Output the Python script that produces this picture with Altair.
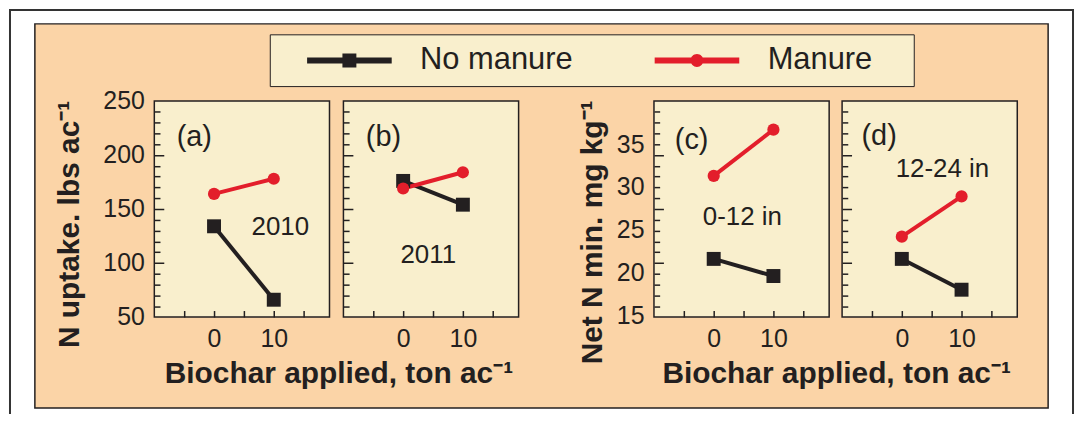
import altair as alt
import pandas as pd

# ---------------- data ----------------
biochar = [0, 10]
series_names = ["No manure", "Manure"]

uptake_2010_no_manure = [134, 66]
uptake_2010_manure = [164, 178]
uptake_2011_no_manure = [176, 154]
uptake_2011_manure = [169, 184]
netmin_0_12_no_manure = [21.6, 19.6]
netmin_0_12_manure = [31.3, 36.7]
netmin_12_24_no_manure = [21.6, 18.0]
netmin_12_24_manure = [24.2, 28.9]

panel_tags = ["(a)", "(b)", "(c)", "(d)"]
tag_x = [-3.3, -3.3, -3.7, -3.8]
tag_y = [217.0, 217.0, 35.5, 36.0]
panel_notes = ["2010", "2011", "0-12 in", "12-24 in"]
note_x = [11.1, 4.2, 4.8, 6.8]
note_y = [133.7, 107.6, 26.5, 32.1]

x_domain = [-10, 19.33]
x_tick_values = [-5, 0, 5, 10, 15]
uptake_domain = [50, 250]
uptake_labels = [50, 100, 150, 200, 250]
netmin_domain = [14.81, 40.05]
netmin_labels = [15, 20, 25, 30, 35]
major_tick_values = [100, 150, 200]
minor_tick_values = [60, 70, 80, 90, 110, 120, 130, 140, 160, 170, 180, 190,
                     210, 220, 230, 240]

x_title = "Biochar applied, ton ac\u207b\u00b9"
y_title_uptake = "N uptake. lbs ac\u207b\u00b9"
y_title_netmin = "Net N min. mg kg\u207b\u00b9"

# ---------------- style / layout ----------------
FONT = "Liberation Sans, Arial, Helvetica, sans-serif"
DARK = "#231f20"
RED = "#e31e2b"
ORANGE = "#fbd4a7"
CREAM = "#f9efcd"

VIEW_W, VIEW_H = 1018, 386
PANEL_LEFT = [120, 310, 622, 811]
PANEL_W = 176
Y_TOP, Y_BOTTOM = 77.5, 294.5
XTICK = 6.5
YMAJ = 9.5
YMIN = 5.7

NM_PATH = "M-4.25,-0.3H4.25V0.3H-4.25Z M-0.7,-0.7H0.7V0.7H-0.7Z"
M_PATH = ("M-4.25,-0.3H4.25V0.3H-4.25Z M0.65,0A0.65,0.65 0 1,1 -0.65,0"
          "A0.65,0.65 0 1,1 0.65,0Z M20.7,0")

LEGEND = alt.Legend(
    title=None, orient="none", legendX=236, legendY=10.5, direction="horizontal",
    fillColor=CREAM, strokeColor=DARK, padding=10.5, symbolSize=400,
    symbolOffset=54, labelOffset=55.5, columnPadding=55.2,
    labelFontSize=31, labelFont=FONT, labelColor=DARK, labelLimit=400,
    symbolStrokeWidth=0, symbolOpacity=1,
)
COLOR_SCALE = alt.Scale(domain=series_names, range=[DARK, RED])
COLOR = alt.Color("series:N", scale=COLOR_SCALE, legend=LEGEND)


def panel(i, no_manure, manure, ydom, ylabels, ytitle=None, ytitle_xy=(0, 0),
          xtitle=None, xtitle_x=0):
    left = PANEL_LEFT[i]
    xs = alt.Scale(domain=x_domain, range=[left, left + PANEL_W])
    ys = alt.Scale(domain=ydom, range=[Y_BOTTOM, Y_TOP])

    x_axis_kw = dict(orient="bottom", values=x_tick_values,
                     labelExpr="datum.value == 0 || datum.value == 10 ? datum.label : ''",
                     tickSize=XTICK, tickWidth=1.5, tickColor=DARK,
                     offset=Y_BOTTOM - XTICK - VIEW_H, domain=False, grid=False,
                     labelPadding=10, labelFontSize=25, labelFont=FONT, labelColor=DARK,
                     zindex=1)
    if xtitle:
        x_axis_kw.update(title=xtitle, titleX=xtitle_x, titleY=63, titleFontSize=30,
                         titleFont=FONT, titleFontWeight="bold", titleColor=DARK,
                         titleAlign="center", titleBaseline="middle")
    else:
        x_axis_kw.update(title=None)
    x_axis = alt.Axis(**x_axis_kw)

    if ylabels is not None:
        y_axis_kw = dict(orient="left", values=ylabels, ticks=False, tickSize=0,
                         domain=False, grid=False,
                         offset=-left, labelPadding=10, labelFontSize=25, labelFont=FONT,
                         labelColor=DARK, zindex=1)
        if ytitle:
            y_axis_kw.update(title=ytitle, titleX=ytitle_xy[0], titleY=ytitle_xy[1],
                             titleAngle=270, titleFontSize=30, titleFont=FONT,
                             titleFontWeight="bold", titleColor=DARK,
                             titleAlign="center", titleBaseline="middle")
        else:
            y_axis_kw.update(title=None)
        y_axis = alt.Axis(**y_axis_kw)
    else:
        y_axis = None

    def X(field):
        return alt.X(field, scale=xs, axis=x_axis)

    def Y(field):
        return alt.Y(field, scale=ys, axis=y_axis)

    bgdf = pd.DataFrame({"x0": [x_domain[0]], "x1": [x_domain[1]],
                         "y0": [ydom[0]], "y1": [ydom[1]]})
    bg = alt.Chart(bgdf).mark_rect(fill=CREAM, stroke=DARK, strokeWidth=1.5).encode(
        x=X("x0:Q"), x2="x1:Q", y=Y("y0:Q"), y2="y1:Q")

    df = pd.DataFrame({
        "biochar": biochar + biochar,
        "value": list(no_manure) + list(manure),
        "series": [series_names[0]] * 2 + [series_names[1]] * 2,
    })
    line = alt.Chart(df).mark_line(strokeWidth=4).encode(
        x=X("biochar:Q"), y=Y("value:Q"), color=COLOR, detail="series:N")
    sq = alt.Chart(df).transform_filter(alt.datum.series == series_names[0]).mark_point(
        shape="square", filled=True, size=196, opacity=1).encode(
        x=X("biochar:Q"), y=Y("value:Q"), color=COLOR)
    ci = alt.Chart(df).transform_filter(alt.datum.series == series_names[1]).mark_point(
        shape="circle", filled=True, size=150, opacity=1).encode(
        x=X("biochar:Q"), y=Y("value:Q"), color=COLOR)

    tdf = pd.DataFrame({"x": [tag_x[i], note_x[i]], "y": [tag_y[i], note_y[i]],
                        "t": [panel_tags[i], panel_notes[i]],
                        "s": [29, 26]})
    txt = alt.Chart(tdf).mark_text(font=FONT, color=DARK).encode(
        x=X("x:Q"), y=Y("y:Q"),
        text="t:N", size=alt.Size("s:Q", scale=None, legend=None))

    main = alt.layer(bg, line, sq, ci, txt)

    tscale = alt.Scale(domain=uptake_domain, range=[Y_BOTTOM, Y_TOP])
    tmaj = alt.Chart(pd.DataFrame({"t": major_tick_values})).mark_point(opacity=0).encode(
        x=alt.value(0),
        y=alt.Y("t:Q", scale=tscale, axis=alt.Axis(
            orient="left", values=major_tick_values, labels=False, domain=False,
            grid=False, title=None, tickSize=YMAJ, tickWidth=1.5, tickColor=DARK,
            offset=-(left + YMAJ), zindex=1)))
    tmin = alt.Chart(pd.DataFrame({"t": minor_tick_values})).mark_point(opacity=0).encode(
        x=alt.value(0),
        y=alt.Y("t:Q", scale=tscale, axis=alt.Axis(
            orient="left", values=minor_tick_values, labels=False, domain=False,
            grid=False, title=None, tickSize=YMIN, tickWidth=1.5, tickColor=DARK,
            offset=-(left + YMIN), zindex=1)))
    return [main, tmaj, tmin]


frame = alt.Chart(pd.DataFrame({"k": [0]})).mark_rect(
    fillOpacity=0, stroke="#333333", strokeWidth=2).encode(
    x=alt.value(-25), x2=alt.value(1043), y=alt.value(-14), y2=alt.value(420))

legend_layer = alt.Chart(pd.DataFrame({"series": series_names})).transform_filter(
    "false").mark_point(filled=True, opacity=1).encode(
    x=alt.value(0), y=alt.value(0),
    color=COLOR,
    shape=alt.Shape("series:N", scale=alt.Scale(domain=series_names, range=[NM_PATH, M_PATH]),
                    legend=LEGEND))

layers = [frame]
layers += panel(0, uptake_2010_no_manure, uptake_2010_manure, uptake_domain, uptake_labels,
                ytitle=y_title_uptake, ytitle_xy=(-85, 201), xtitle=x_title, xtitle_x=305)
layers += panel(1, uptake_2011_no_manure, uptake_2011_manure, uptake_domain, None)
layers += panel(2, netmin_0_12_no_manure, netmin_0_12_manure, netmin_domain, netmin_labels,
                ytitle=y_title_netmin, ytitle_xy=(-62, 209), xtitle=x_title, xtitle_x=805)
layers += panel(3, netmin_12_24_no_manure, netmin_12_24_manure, netmin_domain, None)
layers.append(legend_layer)

chart = alt.layer(*layers).resolve_scale(x="independent", y="independent").properties(
    width=VIEW_W, height=VIEW_H,
    autosize=alt.AutoSizeParams(type="none"),
    padding={"left": 27, "top": 15, "right": 27, "bottom": 5},
    background="white",
).configure_view(fill=ORANGE, stroke=DARK, strokeWidth=1.5)

chart.save("out.html", embed_options={"renderer": "svg", "actions": False})
